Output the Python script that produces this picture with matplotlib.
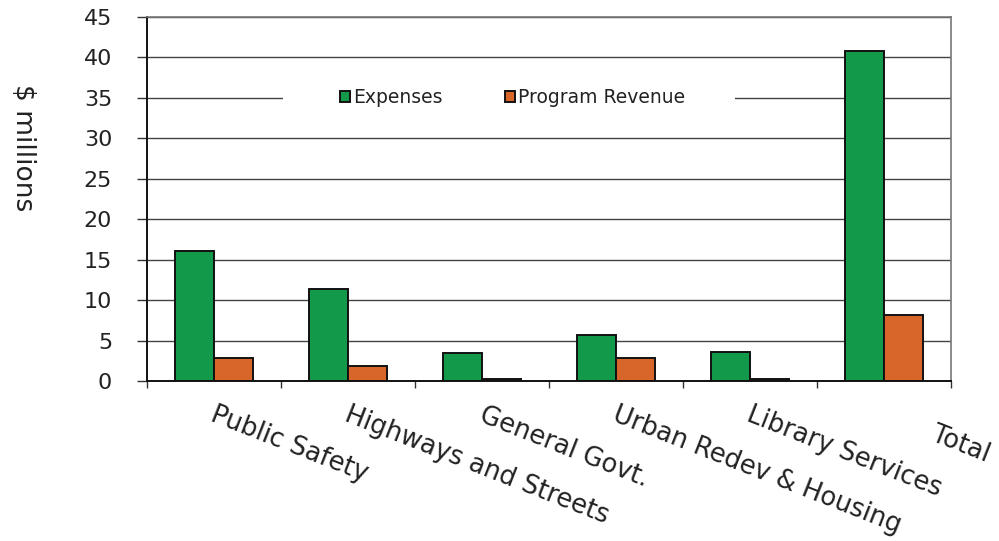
import matplotlib
matplotlib.use("Agg")
import matplotlib.pyplot as plt
import matplotlib.transforms as mtransforms
from matplotlib.patches import Rectangle
import numpy as np

categories = ["Public Safety", "Highways and Streets", "General Govt.",
              "Urban Redev & Housing", "Library Services", "Total"]
expenses = [16.1, 11.4, 3.5, 5.7, 3.6, 40.7]
program_revenue = [2.9, 1.8, 0.2, 2.8, 0.2, 8.1]
y_ticks = [0, 5, 10, 15, 20, 25, 30, 35, 40, 45]

GREEN = "#12994a"
ORANGE = "#d8652a"

plt.rcParams["font.family"] = ["DejaVu Sans"]

fig = plt.figure(figsize=(9.99, 5.41), dpi=100)
ax = fig.add_axes([0.147, 0.2957, 0.805, 0.6738])

x = np.arange(len(categories))
w = 0.29
ax.bar(x - w / 2, expenses, w, color=GREEN, edgecolor="#111111",
       linewidth=1.4, label="Expenses", zorder=2)
ax.bar(x + w / 2, program_revenue, w, color=ORANGE, edgecolor="#111111",
       linewidth=1.4, label="Program Revenue", zorder=2)

ax.set_xlim(-0.5, len(categories) - 0.5)
ax.set_ylim(0, 45)
ax.set_yticks(y_ticks)
ax.yaxis.grid(True, color="#444444", linewidth=1.0)
ax.set_axisbelow(True)

# spines: black left/bottom, grey top/right
for side in ("left", "bottom"):
    ax.spines[side].set_color("#111111")
    ax.spines[side].set_linewidth(1.4)
for side in ("top", "right"):
    ax.spines[side].set_color("#777777")
    ax.spines[side].set_linewidth(1.2)

# category ticks sit on the boundaries between groups
ax.set_xticks(np.arange(len(categories) + 1) - 0.5)
ax.set_xticklabels([])
ax.tick_params(axis="x", direction="out", length=5, width=1, color="#333333")
ax.tick_params(axis="y", direction="out", length=7, width=1, color="#333333",
               labelsize=16, pad=18, labelcolor="#222222")

# rotated category labels
label_shift = {5: (0.50, -0.19)}
for i, name in enumerate(categories):
    dx, dy = label_shift.get(i, (0.0, 0.0))
    off = mtransforms.ScaledTranslation(0.03 + dx, -0.21 + dy,
                                        fig.dpi_scale_trans)
    ax.text(i, 0, name, transform=ax.get_xaxis_transform() + off,
            rotation=-21.5, rotation_mode="anchor", ha="left", va="top",
            fontsize=18.5, color="#222222")

ax.set_ylabel("$ millions", rotation=-90, fontsize=19, color="#222222",
              va="bottom")
ax.yaxis.set_label_coords(-0.17, 0.64)

# white band behind the legend that interrupts the gridline
ax.add_patch(Rectangle((0.169, 0.755), 0.562, 0.04, transform=ax.transAxes,
                       facecolor="white", edgecolor="none", zorder=1))
leg = ax.legend(loc="center", bbox_to_anchor=(0.4546, 0.777), ncol=2,
                frameon=False, fontsize=13.5, handlelength=0.55,
                handleheight=0.55, handletextpad=0.15, columnspacing=3.3,
                borderpad=0.1)
for t in leg.get_texts():
    t.set_color("#222222")

fig.savefig("out.png", dpi=100, facecolor="white")
